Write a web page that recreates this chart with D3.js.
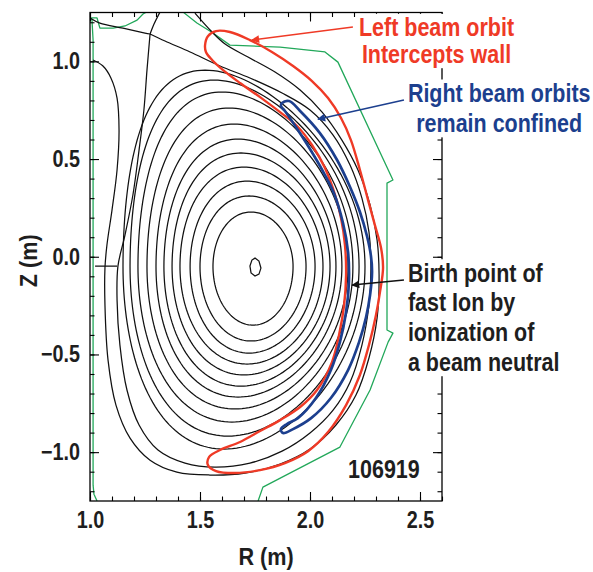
<!DOCTYPE html>
<html>
<head>
<meta charset="utf-8">
<script src="https://cdn.jsdelivr.net/npm/d3@7"></script>
<style>
  html, body { margin: 0; padding: 0; background: #fff; }
  svg { display: block; }
  text { font-family: "Liberation Sans", Arial, Helvetica, sans-serif; font-weight: bold; }
</style>
</head>
<body>
<svg id="chart" width="593" height="572"></svg>
<script>
// ---------- data (R, Z in metres) ----------
const rMajorTicks = [1.0, 1.5, 2.0, 2.5];
const zMajorTicks = [-1.0, -0.5, 0.0, 0.5, 1.0];
const rMinorTicks = d3.range(10, 27).map(v => v / 10);
const zMinorTicks = d3.range(-12, 13).map(v => v / 10);

// closed flux surfaces, innermost first: midplane extents, top / bottom heights and the radius of those points
const surfZ0   = -0.05;
const surfRin  = [1.559, 1.500, 1.455, 1.409, 1.373, 1.336, 1.300, 1.259, 1.218, 1.182, 1.150];
const surfRout = [1.923, 1.982, 2.023, 2.059, 2.091, 2.118, 2.145, 2.173, 2.195, 2.223, 2.250];
const surfZtop = [0.229, 0.311, 0.387, 0.459, 0.531, 0.602, 0.679, 0.761, 0.843, 0.904, 0.955];
const surfRtop = [1.732, 1.723, 1.714, 1.700, 1.686, 1.673, 1.655, 1.632, 1.600, 1.564, 1.523];
const surfZbot = [-0.350, -0.431, -0.493, -0.549, -0.605, -0.662, -0.718, -0.779, -0.846, -0.918, -0.984];
const surfRbot = [1.741, 1.732, 1.723, 1.714, 1.700, 1.686, 1.673, 1.659, 1.645, 1.627, 1.609];

// small surface around the magnetic axis
const axisSurface = [[1.750,-0.007],[1.768,-0.022],[1.777,-0.058],[1.768,-0.089],[1.750,-0.099],[1.732,-0.083],[1.727,-0.048],[1.736,-0.017]];

// separatrix, starting at the upper X-point
const separatrix = [[1.273,1.140],[1.259,0.955],[1.245,0.751],[1.223,0.546],[1.195,0.316],[1.159,0.111],[1.127,-0.048],
  [1.123,-0.222],[1.136,-0.452],[1.168,-0.682],[1.223,-0.861],[1.309,-0.989],[1.432,-1.056],[1.568,-1.077],[1.727,-1.056],
  [1.873,-0.995],[2.000,-0.902],[2.105,-0.785],[2.182,-0.642],[2.236,-0.452],[2.268,-0.247],[2.277,-0.058],[2.268,0.127],
  [2.236,0.300],[2.182,0.469],[2.105,0.623],[2.000,0.751],[1.873,0.838],[1.727,0.915],[1.591,0.976],[1.455,1.048],[1.341,1.104],[1.273,1.140]];

// divertor legs from the X-point
const legInner = [[1.000,1.222],[1.045,1.196],[1.150,1.170],[1.250,1.145],[1.273,1.140]];
const legUpper = [[1.318,1.252],[1.291,1.191],[1.273,1.140]];

// open field line in the scrape-off layer
const solLine = [[1.014,1.007],[1.059,0.976],[1.095,0.915],[1.123,0.812],[1.132,0.648],[1.123,0.444],[1.100,0.239],
  [1.077,0.060],[1.068,-0.058],[1.068,-0.247],[1.082,-0.529],[1.118,-0.759],[1.182,-0.928],[1.273,-1.041],[1.395,-1.102],
  [1.545,-1.117],[1.705,-1.107],[1.864,-1.061],[2.000,-0.984],[2.118,-0.861],[2.209,-0.708],[2.268,-0.518],[2.305,-0.313],
  [2.314,-0.094],[2.305,0.085],[2.273,0.265],[2.218,0.444],[2.145,0.597],[2.055,0.740],[1.955,0.853],[1.841,0.945],
  [1.718,1.022],[1.614,1.089],[1.555,1.150],[1.477,1.247]];

const midplaneStub = [[1.023,-0.048],[1.123,-0.048]];

// vessel wall
const wallLeft = [[1.032,-1.250],[1.018,-1.215],[1.014,-1.169],[1.014,1.109],[1.009,1.211],[1.005,1.222],[1.032,1.222],
  [1.045,1.170],[1.105,1.170],[1.159,1.181],[1.214,1.211],[1.241,1.242],[1.255,1.252]];
const wallRight = [[1.423,1.252],[1.486,1.196],[1.559,1.145],[1.636,1.083],[1.864,1.073],[2.068,1.048],[2.127,0.996],
  [2.377,0.393],[2.350,0.377],[2.350,-0.375],[2.377,-0.391],[2.355,-0.437],[2.273,-0.682],[2.136,-0.974],[1.786,-1.179],[1.764,-1.250]];

// beam-ion orbits
const leftBeamOrbit = [[1.523,1.083],[1.536,1.129],[1.573,1.155],[1.636,1.150],[1.727,1.109],[1.827,1.048],[1.923,0.976],
  [2.009,0.899],[2.082,0.812],[2.141,0.710],[2.186,0.597],[2.227,0.444],[2.264,0.290],[2.295,0.162],[2.323,0.045],
  [2.332,-0.058],[2.318,-0.181],[2.300,-0.298],[2.268,-0.452],[2.227,-0.605],[2.164,-0.759],[2.082,-0.897],[1.991,-0.995],
  [1.886,-1.056],[1.773,-1.092],[1.659,-1.107],[1.573,-1.097],[1.536,-1.066],[1.541,-1.025],[1.591,-0.989],
  [1.682,-0.948],[1.773,-0.892],[1.864,-0.836],[1.955,-0.769],[2.032,-0.682],[2.100,-0.539],[2.132,-0.401],[2.155,-0.247],
  [2.164,-0.094],[2.159,0.060],[2.141,0.198],[2.114,0.316],[2.068,0.454],[2.009,0.572],[1.941,0.669],[1.864,0.740],
  [1.773,0.817],[1.682,0.889],[1.605,0.955],[1.555,1.007],[1.527,1.048]];
const rightBeamOrbit = [[1.873,0.787],[1.905,0.797],[1.955,0.746],[2.045,0.633],[2.123,0.495],[2.182,0.357],[2.227,0.229],
  [2.259,0.106],[2.277,0.004],[2.282,-0.078],[2.273,-0.196],[2.255,-0.309],[2.223,-0.437],[2.173,-0.580],[2.095,-0.723],
  [2.005,-0.826],[1.923,-0.882],[1.877,-0.902],[1.868,-0.882],[1.895,-0.856],[1.945,-0.826],[2.027,-0.723],[2.095,-0.580],
  [2.136,-0.437],[2.164,-0.283],[2.177,-0.130],[2.173,0.024],[2.150,0.172],[2.109,0.325],[2.059,0.437],[1.995,0.560],
  [1.927,0.679],[1.886,0.746],[1.868,0.771]];

// annotations
const leftBeamText  = ["Left beam orbit", "Intercepts wall"];
const rightBeamText = ["Right beam orbits", "remain confined"];
const birthText     = ["Birth point of", "fast Ion by", "ionization of", "a beam neutral"];
const shotLabel     = "106919";
const birthPoint    = [2.191, -0.145];
const leftOrbitTip  = [1.736, 1.109];
const rightOrbitTip = [2.036, 0.704];

// ---------- layout ----------
const svg = d3.select("#chart");
const x = d3.scaleLinear().domain([1.0, 2.6]).range([90, 442]);
const y = d3.scaleLinear().domain([-1.25, 1.25]).range([501, 12.5]);
const [x0, x1] = x.range();
const [y0, y1] = [y(1.25), y(-1.25)];

const RED = "#ef3a26", BLUE = "#1c3f8e", GREEN = "#22a85a", INK = "#1e1e1e";
const SQUEEZE = 0.86;   // horizontal squeeze giving a condensed bold face

const defs = svg.append("defs");
defs.append("clipPath").attr("id", "plotArea")
  .append("rect").attr("x", x0).attr("y", y0).attr("width", x1 - x0).attr("height", y1 - y0);

const plot = svg.append("g").attr("clip-path", "url(#plotArea)");

const lineOpen = d3.line().x(d => x(d[0])).y(d => y(d[1])).curve(d3.curveCatmullRom.alpha(0.5));
const lineClosed = d3.line().x(d => x(d[0])).y(d => y(d[1])).curve(d3.curveCatmullRomClosed.alpha(0.5));
const lineStraight = d3.line().x(d => x(d[0])).y(d => y(d[1]));
const lineStraightClosed = d3.line().x(d => x(d[0])).y(d => y(d[1])).curve(d3.curveLinearClosed);

// D-shaped surface through its measured extreme points (separate upper / lower elongation and triangularity)
function dShape(i) {
  const R0 = (surfRin[i] + surfRout[i]) / 2, a = (surfRout[i] - surfRin[i]) / 2;
  const pts = [];
  const n = 180;
  for (let k = 0; k <= n; k++) {
    const t = 2 * Math.PI * k / n;
    const up = Math.sin(t) >= 0;
    const kap = up ? (surfZtop[i] - surfZ0) / a : (surfZ0 - surfZbot[i]) / a;
    const del = up ? (R0 - surfRtop[i]) / a : (R0 - surfRbot[i]) / a;
    pts.push([R0 + a * Math.cos(t + Math.asin(del) * Math.sin(t)), surfZ0 + kap * a * Math.sin(t)]);
  }
  return pts;
}

// vessel wall
[wallLeft, wallRight].forEach(w => plot.append("path").attr("d", lineStraight(w))
  .attr("fill", "none").attr("stroke", GREEN).attr("stroke-width", 1.3).attr("stroke-linejoin", "round"));

// flux surfaces
const flux = plot.append("g").attr("fill", "none").attr("stroke", "#111").attr("stroke-width", 1.25);
surfRin.forEach((_, i) => flux.append("path").attr("d", lineStraight(dShape(i))));
flux.append("path").attr("d", lineStraightClosed(axisSurface));
flux.append("path").attr("d", lineOpen(separatrix));
flux.append("path").attr("d", lineOpen(legInner));
flux.append("path").attr("d", lineOpen(legUpper));
flux.append("path").attr("d", lineOpen(solLine));
flux.append("path").attr("d", lineStraight(midplaneStub));

// orbits
plot.append("path").attr("d", lineClosed(leftBeamOrbit))
  .attr("fill", "none").attr("stroke", RED).attr("stroke-width", 2.4);
plot.append("path").attr("d", lineClosed(rightBeamOrbit))
  .attr("fill", "none").attr("stroke", BLUE).attr("stroke-width", 2.7);

// ---------- axes (ticks point inward on all four sides) ----------
const fmt = d3.format(".1f");
function styleAxis(g) { g.select(".domain").remove(); g.selectAll("line").attr("stroke", "#000").attr("stroke-width", 1.1); }

svg.append("g").attr("transform", `translate(0,${y1})`)
  .call(d3.axisBottom(x).tickValues(rMinorTicks).tickSize(-4.5).tickFormat("")).call(styleAxis);
svg.append("g").attr("transform", `translate(0,${y0})`)
  .call(d3.axisTop(x).tickValues(rMinorTicks).tickSize(-4.5).tickFormat("")).call(styleAxis);
svg.append("g").attr("transform", `translate(${x0},0)`)
  .call(d3.axisLeft(y).tickValues(zMinorTicks).tickSize(-4.5).tickFormat("")).call(styleAxis);
svg.append("g").attr("transform", `translate(${x1},0)`)
  .call(d3.axisRight(y).tickValues(zMinorTicks).tickSize(-4.5).tickFormat("")).call(styleAxis);

const bottomAxis = svg.append("g").attr("transform", `translate(0,${y1})`)
  .call(d3.axisBottom(x).tickValues(rMajorTicks).tickSize(-9).tickPadding(11).tickFormat(fmt)).call(styleAxis);
svg.append("g").attr("transform", `translate(0,${y0})`)
  .call(d3.axisTop(x).tickValues(rMajorTicks).tickSize(-9).tickFormat("")).call(styleAxis);
const leftAxis = svg.append("g").attr("transform", `translate(${x0},0)`)
  .call(d3.axisLeft(y).tickValues(zMajorTicks).tickSize(-9).tickPadding(10).tickFormat(fmt)).call(styleAxis);
svg.append("g").attr("transform", `translate(${x1},0)`)
  .call(d3.axisRight(y).tickValues(zMajorTicks).tickSize(-9).tickFormat("")).call(styleAxis);

bottomAxis.selectAll("text").attr("fill", INK).style("font-size", "23px").style("font-family", null)
  .attr("transform", `scale(${SQUEEZE},1)`);
leftAxis.selectAll("text").attr("fill", INK).style("font-size", "23px").style("font-family", null)
  .attr("x", -10 / SQUEEZE).attr("transform", `scale(${SQUEEZE},1)`);

// frame
svg.append("rect").attr("x", x0).attr("y", y0).attr("width", x1 - x0).attr("height", y1 - y0)
  .attr("fill", "none").attr("stroke", "#000").attr("stroke-width", 1.3);

// axis titles
svg.append("text").attr("transform", `translate(${(x0 + x1) / 2},565) scale(0.9,1)`).attr("text-anchor", "middle")
  .attr("fill", INK).style("font-size", "24px").text("R (m)");
svg.append("text").attr("transform", `translate(37,${y(0) + 4}) rotate(-90) scale(0.9,1)`).attr("text-anchor", "middle")
  .attr("fill", INK).style("font-size", "24px").text("Z (m)");

// ---------- annotations ----------
function noteBlock(lines, px, baseY, step, anchor, color, size) {
  const g = svg.append("g").attr("transform", `scale(${SQUEEZE},1)`);
  const bg = g.append("rect").attr("fill", "#fff");
  const t = g.append("text").attr("fill", color).attr("text-anchor", anchor).style("font-size", size + "px");
  lines.forEach((s, i) => t.append("tspan").attr("x", px / SQUEEZE).attr("y", baseY + i * step).text(s));
  const b = t.node().getBBox();
  bg.attr("x", b.x - 3).attr("y", b.y).attr("width", b.width + 6).attr("height", b.height);
  return g;
}

noteBlock(leftBeamText, x(2.575), y(1.128), 26.5, "middle", RED, 25);
noteBlock(rightBeamText, x(2.86), y(0.792), 30, "middle", BLUE, 25);
noteBlock(birthText, x(2.445), y(-0.128), 29.7, "start", INK, 25);

svg.append("text").attr("transform", `translate(${x(2.336)},${y(-1.133)}) scale(${SQUEEZE},1)`)
  .attr("text-anchor", "middle").attr("fill", INK).style("font-size", "25px").text(shotLabel);

// arrows
[["arrRed", RED], ["arrBlue", BLUE], ["arrBlack", "#111"]].forEach(([id, c]) => {
  defs.append("marker").attr("id", id).attr("viewBox", "0 0 10 10").attr("refX", 9).attr("refY", 5)
    .attr("markerWidth", 11).attr("markerHeight", 8).attr("markerUnits", "userSpaceOnUse").attr("orient", "auto")
    .append("path").attr("d", "M0,0 L10,5 L0,10 Z").attr("fill", c);
});
function arrow(from, to, color, id) {
  svg.append("line").attr("x1", x(from[0])).attr("y1", y(from[1])).attr("x2", x(to[0])).attr("y2", y(to[1]))
    .attr("stroke", color).attr("stroke-width", 1.5).attr("marker-end", `url(#${id})`);
}
arrow([2.195, 1.176], leftOrbitTip, RED, "arrRed");
arrow([2.427, 0.802], rightOrbitTip, BLUE, "arrBlue");
arrow([2.427, -0.119], birthPoint, "#111", "arrBlack");
</script>
</body>
</html>
